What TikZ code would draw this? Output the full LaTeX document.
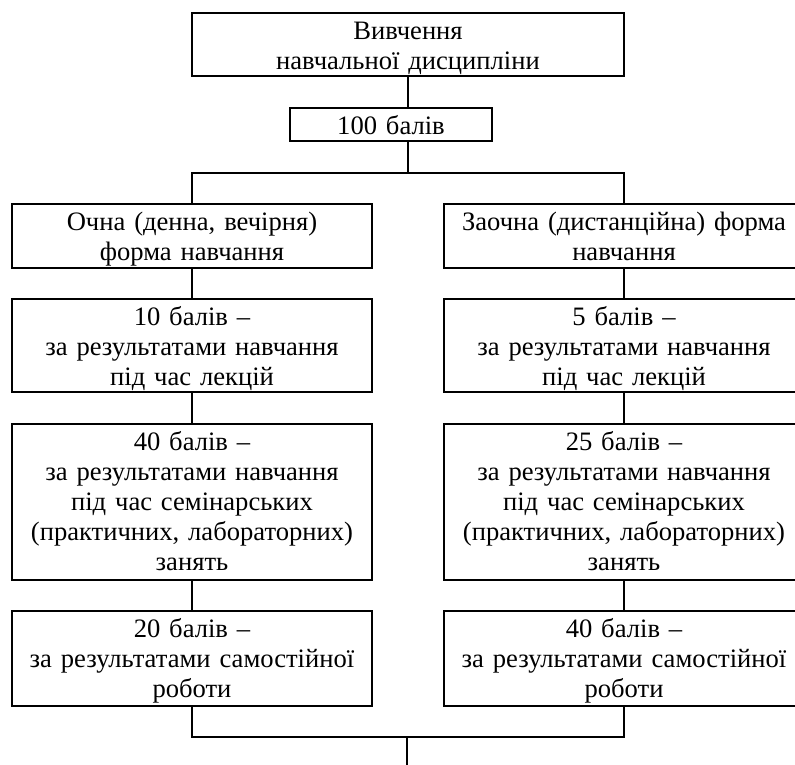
\documentclass[tikz,border=0pt]{standalone}
\usepackage{fontspec}
\setmainfont{Liberation Serif}
\newcommand{\boxtext}[2]{\begin{minipage}[t]{#1}\centering #2\end{minipage}}
\begin{document}
\begin{tikzpicture}[x=1pt,y=-1pt,line width=1.5pt,
  box/.style={draw, line width=1.5pt, inner sep=0pt, outer sep=0pt,
    font=\fontsize{26.6}{30}\selectfont, anchor=north west, text height=26.5pt},
  conn/.style={draw, line width=1.5pt}]
\clip (0,0) rectangle (795,765);
\fill[white] (0,0) rectangle (795,765);
% top
\node[box, text width=432pt, text depth=36.5pt] (top) at (192,13) {\boxtext{432pt}{Вивчення\\навчальної дисципліни}};
\node[box, text width=202pt, text depth=6.5pt] (b100) at (290,108) {\boxtext{202pt}{100 балів}};
% left column
\node[box, text width=360pt, text depth=37.5pt] (ochna) at (12,204) {\boxtext{360pt}{Очна (денна, вечірня)\\форма навчання}};
\node[box, text width=360pt, text depth=66.5pt] (l10) at (12,299) {\boxtext{360pt}{10 балів --\\за результатами навчання\\під час лекцій}};
\node[box, text width=360pt, text depth=129.5pt] (l40) at (12,424) {\boxtext{360pt}{40 балів --\\за результатами навчання\\під час семінарських\\(практичних, лабораторних)\\занять}};
\node[box, text width=360pt, text depth=68.5pt] (l20) at (12,611) {\boxtext{360pt}{20 балів --\\за результатами самостійної\\роботи}};
% right column
\node[box, text width=360pt, text depth=37.5pt] (zaochna) at (444,204) {\boxtext{360pt}{Заочна (дистанційна) форма\\навчання}};
\node[box, text width=360pt, text depth=66.5pt] (r5) at (444,299) {\boxtext{360pt}{5 балів --\\за результатами навчання\\під час лекцій}};
\node[box, text width=360pt, text depth=129.5pt] (r25) at (444,424) {\boxtext{360pt}{25 балів --\\за результатами навчання\\під час семінарських\\(практичних, лабораторних)\\занять}};
\node[box, text width=360pt, text depth=68.5pt] (r40) at (444,611) {\boxtext{360pt}{40 балів --\\за результатами самостійної\\роботи}};
% coordinates
\coordinate (hl) at (408,173);
\coordinate (bl) at (407,737);
\coordinate (out) at (407,765);
% connectors
\draw[conn] (top.south) -- (top.south |- b100.north);
\draw[conn] (top.south |- b100.south) -- (hl);
\draw[conn] (ochna.north) -- (ochna.north |- hl) -- (zaochna.north |- hl) -- (zaochna.north);
\draw[conn] (ochna) -- (l10);
\draw[conn] (l10) -- (l40);
\draw[conn] (l40) -- (l20);
\draw[conn] (zaochna) -- (r5);
\draw[conn] (r5) -- (r25);
\draw[conn] (r25) -- (r40);
\draw[conn] (l20.south) -- (l20.south |- bl) -- (r40.south |- bl) -- (r40.south);
\draw[conn] (bl) -- (out);
\end{tikzpicture}
\end{document}
